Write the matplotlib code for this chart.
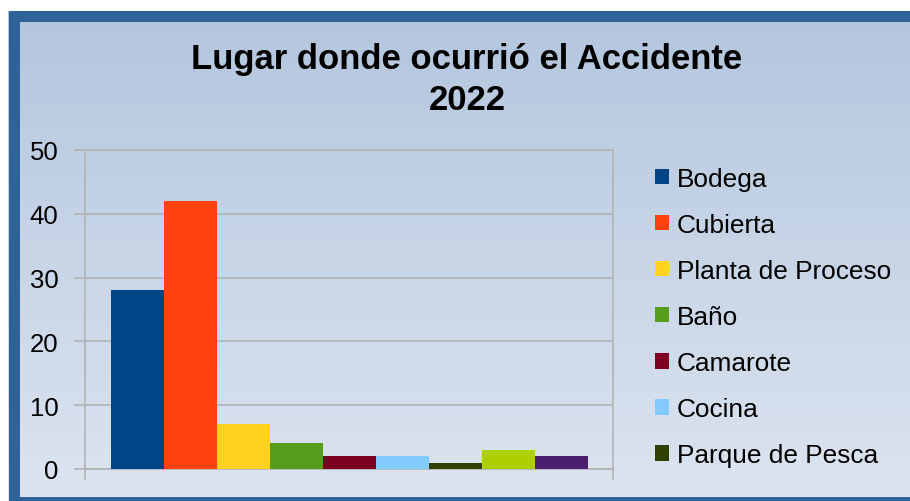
import numpy as np
import matplotlib
matplotlib.use("Agg")
from matplotlib import pyplot as plt
from matplotlib.patches import Rectangle

# datos del grafico
lugares = ["Bodega", "Cubierta", "Planta de Proceso", "Baño", "Camarote",
           "Cocina", "Parque de Pesca", "Pasillo", "Otros"]
accidentes = [28, 42, 7, 4, 2, 2, 1, 3, 2]
colores = ["#004586", "#ff420e", "#ffd320", "#579d1c", "#7e0021",
           "#83caff", "#314004", "#aecf00", "#4b1f6f"]
titulo = "Lugar donde ocurrió el Accidente\n2022"
y_ticks = [0, 10, 20, 30, 40, 50]
n_leyenda = 7  # el resto queda fuera del recuadro

plt.rcParams["font.family"] = ["Liberation Sans", "DejaVu Sans"]

fig = plt.figure(figsize=(9.1, 5.02), dpi=100)
fig.patch.set_facecolor("white")
W, H = 910, 502

# fondo con degradado y marco azul
bg = fig.add_axes([0, 0, 1, 1], zorder=-10)
grad = np.linspace(0, 1, 256).reshape(-1, 1)
cmap = matplotlib.colors.LinearSegmentedColormap.from_list("g", ["#b3c6de", "#dde5f0"])
bg.imshow(grad, cmap=cmap, extent=[8, W + 20, H + 10, 12], aspect="auto")
marco = "#2e6299"
bg.add_patch(Rectangle((9, 12), W, 11, color=marco, lw=0))   # arriba
bg.add_patch(Rectangle((9, 12), 11, H, color=marco, lw=0))   # izquierda
bg.add_patch(Rectangle((9, 497.5), W, 10, color=marco, lw=0))  # abajo
bg.set_xlim(0, W)
bg.set_ylim(H, 0)
bg.axis("off")

ax = fig.add_axes([85 / W, 32 / H, 528 / W, 319 / H])
ax.patch.set_alpha(0)
x = np.arange(len(lugares))
barras = ax.bar(x, accidentes, width=1.0, color=colores, zorder=3)

x0, x1 = -0.985, len(lugares) - 1 + 0.975
ax.set_xlim(x0, x1)
ax.set_ylim(0, 50)
ax.set_yticks(y_ticks)
ax.set_xticks([x0, x1])
ax.set_xticklabels(["", ""])
ax.tick_params(axis="both", color="#b3b3b3", length=8, width=1.2)
ax.tick_params(axis="y", labelsize=18.5, pad=11, labelcolor="black")
ax.grid(axis="y", color="#b3b3b3", linewidth=1.2, zorder=0)
for lado in ["left", "right", "bottom", "top"]:
    ax.spines[lado].set_color("#b3b3b3")
    ax.spines[lado].set_linewidth(1.2)

fig.text(467 / W, 1 - 80 / H, titulo, ha="center", va="center",
         fontsize=24.9, fontweight="bold", linespacing=1.3)

ley = ax.legend(barras[:n_leyenda], lugares[:n_leyenda], loc="upper left",
                bbox_to_anchor=(655 / W, 1 - 168 / H), bbox_transform=fig.transFigure,
                frameon=False, fontsize=18.9, handlelength=0.52, handleheight=0.52,
                handletextpad=0.3, labelspacing=0.84, borderaxespad=0, borderpad=0)

fig.savefig("out.png", dpi=100, facecolor=fig.get_facecolor())
